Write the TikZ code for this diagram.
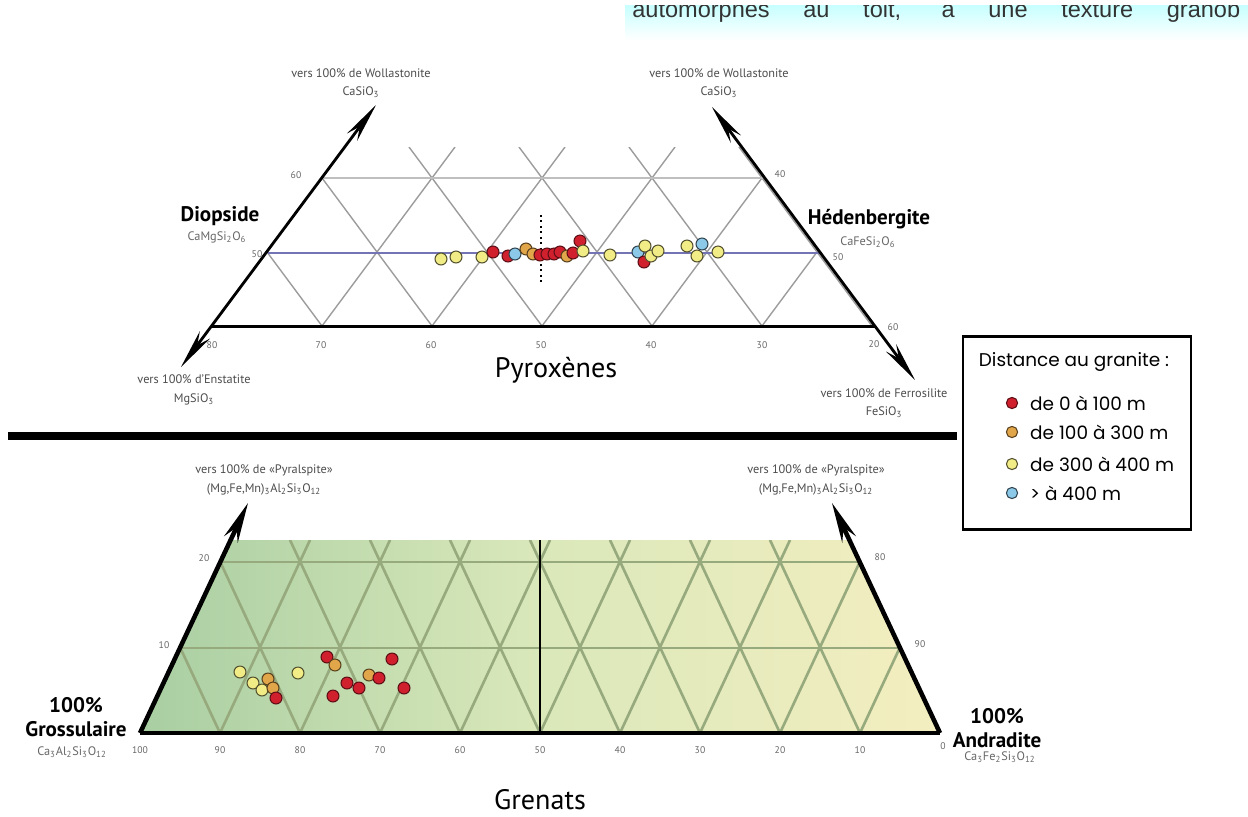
\documentclass[tikz,border=0pt]{standalone}
\usepackage{fontspec}
\setmainfont{PT Sans}
\newfontfamily\legendfont{Poppins}
\newfontfamily\pagefont{Liberation Sans}
\usetikzlibrary{arrows.meta}

\definecolor{dotred}{HTML}{D0202E}
\definecolor{dotorange}{HTML}{E2A64A}
\definecolor{dotyellow}{HTML}{F2EC86}
\definecolor{dotblue}{HTML}{8CC8E8}
\definecolor{wogrid}{HTML}{9C9C9C}
\definecolor{woline}{HTML}{7474B4}
\definecolor{garleft}{HTML}{A8CEA2}
\definecolor{garmid}{HTML}{DAE8BA}
\definecolor{garright}{HTML}{F4EEC0}
\definecolor{gargrid}{HTML}{97AA7E}

\newcommand{\sbs}[1]{\textsubscript{#1}}

\begin{document}
\begin{tikzpicture}[x=0.02cm,y=-0.02cm,
    axisarrow/.style={line width=1.6pt,{Stealth[length=0.8cm,width=0.25cm]}-{Stealth[length=0.8cm,width=0.25cm]}},
    garnetarrow/.style={line width=2.6pt,-{Stealth[length=0.8cm,width=0.3cm]}},
    pyrgrid/.style={draw=wogrid,line width=0.8pt},
    gargridline/.style={draw=gargrid,line width=1.5pt},
    tick/.style={font=\fontsize{5.5}{6}\selectfont,text=black!60},
    note/.style={font=\fontsize{7}{10.5}\selectfont,text=black!70,align=center},
    formula/.style={font=\fontsize{7}{8}\selectfont,text=black!60},
    endmember/.style={font=\bfseries\fontsize{12}{14}\selectfont,align=center},
    title/.style={font=\fontsize{16}{18}\selectfont},
    legtext/.style={font=\legendfont\fontsize{10.5}{12}\selectfont,anchor=west},
    reddot/.style={fill=dotred,draw=dotred!45!black,line width=0.6pt},
    orangedot/.style={fill=dotorange,draw=dotorange!40!black,line width=0.6pt},
    yellowdot/.style={fill=dotyellow,draw=dotyellow!35!black,line width=0.6pt},
    bluedot/.style={fill=dotblue,draw=dotblue!35!black,line width=0.6pt}]

    \clip (0,0) rectangle (1248,816);

    % fragment of the page above
    \begin{scope}
        \clip (625,5) rectangle (1248,40);
        \fill[top color=cyan!22,bottom color=white] (625,5) rectangle (1248,40);
        \node[font=\pagefont\fontsize{13.4}{15}\selectfont,text=black!80,anchor=base west,inner sep=0pt] (frag) at (632,17)
            {\makebox[12.16cm][s]{automorphes au toit, à une texture granob}};
    \end{scope}

    % pyroxenes
    \coordinate (di) at (268,253);
    \coordinate (hd) at (821,253);
    \coordinate (en0) at (212,326);
    \coordinate (fs0) at (875,326);
    \coordinate (wol) at (376,105);
    \coordinate (enx) at (181,367);
    \coordinate (wor) at (712,107);
    \coordinate (fsx) at (915,380);

    \begin{scope}
        \clip (212,326) -- (345,147) -- (742,147) -- (875,326) -- cycle;
        \foreach \k in {-3,...,9} {
            \draw[pyrgrid] ({212+110*\k},326) -- ++(133,-179);
            \draw[pyrgrid] ({212+110*\k},326) -- ++(-133,-179);
        }
    \end{scope}
    \draw[draw=black!25,line width=0.8pt] (322,178) -- (765,178);
    \draw[draw=woline,line width=0.9pt] (di) -- (hd);
    \draw[line width=1.7pt] (en0) -- (fs0);
    \draw[dotted,line width=1.1pt] (541,215) -- (541,284);
    \draw[axisarrow] (enx) -- (wol);
    \draw[axisarrow] (fsx) -- (wor);

    \node[tick] (l60) at (296,175) {60};
    \node[tick] (l50) at (257,254) {50};
    \node[tick] (r40) at (780,174) {40};
    \node[tick] (r50) at (838,257) {50};
    \node[tick] (r60) at (893,327) {60};
    \node[tick] (b80) at (212,345) {80};
    \node[tick] (b70) at (321,345) {70};
    \node[tick] (b60) at (431,345) {60};
    \node[tick] (b50) at (541,345) {50};
    \node[tick] (b40) at (651,345) {40};
    \node[tick] (b30) at (762,345) {30};
    \node[tick] (b20) at (874,344) {20};

    \node[note] (wotextl) at (361,83) {vers 100\% de Wollastonite\\CaSiO\sbs{3}};
    \node[note] (wotextr) at (719,83) {vers 100\% de Wollastonite\\CaSiO\sbs{3}};
    \node[note] (entext) at (194,390) {vers 100\% d'Enstatite\\MgSiO\sbs{3}};
    \node[note] (fstext) at (884,403) {vers 100\% de Ferrosilite\\FeSiO\sbs{3}};
    \node[endmember] (dilabel) at (220,216) {Diopside};
    \node[formula] (diform) at (217,237) {CaMgSi\sbs{2}O\sbs{6}};
    \node[endmember] (hdlabel) at (869,219) {Hédenbergite};
    \node[formula] (hdform) at (868,242) {CaFeSi\sbs{2}O\sbs{6}};
    \node[title] (pyrtitle) at (556,370) {Pyroxènes};

    \draw[yellowdot] (441,259) circle[radius=3.4pt];
    \draw[yellowdot] (456,257) circle[radius=3.4pt];
    \draw[yellowdot] (482,257) circle[radius=3.4pt];
    \draw[reddot] (493,252) circle[radius=3.4pt];
    \draw[reddot] (508,256) circle[radius=3.4pt];
    \draw[bluedot] (515,254) circle[radius=3.4pt];
    \draw[orangedot] (526,249) circle[radius=3.4pt];
    \draw[orangedot] (533,254) circle[radius=3.4pt];
    \draw[reddot] (540,255) circle[radius=3.4pt];
    \draw[reddot] (547,254) circle[radius=3.4pt];
    \draw[reddot] (554,254) circle[radius=3.4pt];
    \draw[reddot] (560,252) circle[radius=3.4pt];
    \draw[orangedot] (567,256) circle[radius=3.4pt];
    \draw[reddot] (573,253) circle[radius=3.4pt];
    \draw[reddot] (580,241) circle[radius=3.4pt];
    \draw[yellowdot] (583,251) circle[radius=3.4pt];
    \draw[yellowdot] (610,255) circle[radius=3.4pt];
    \draw[bluedot] (638,252) circle[radius=3.4pt];
    \draw[reddot] (644,262) circle[radius=3.4pt];
    \draw[yellowdot] (645,246) circle[radius=3.4pt];
    \draw[yellowdot] (651,256) circle[radius=3.4pt];
    \draw[yellowdot] (658,251) circle[radius=3.4pt];
    \draw[yellowdot] (687,246) circle[radius=3.4pt];
    \draw[yellowdot] (697,256) circle[radius=3.4pt];
    \draw[bluedot] (702,244) circle[radius=3.4pt];
    \draw[yellowdot] (718,252) circle[radius=3.4pt];

    % separator
    \draw[line width=4.2pt] (8,436) -- (957,436);

    % legend
    \node[draw,line width=1.6pt,minimum width=4.56cm,minimum height=3.86cm] (legend) at (1077,433) {};
    \node[font=\legendfont\fontsize{10.5}{12}\selectfont] (legtitle) at (1074,362) {Distance au granite :};
    \draw[reddot] (1012,403) circle[radius=3.2pt];
    \node[legtext] (leg1) at (1024,403) {de 0 à 100 m};
    \draw[orangedot] (1012,432) circle[radius=3.2pt];
    \node[legtext] (leg2) at (1024,432) {de 100 à 300 m};
    \draw[yellowdot] (1012,464) circle[radius=3.2pt];
    \node[legtext] (leg3) at (1024,464) {de 300 à 400 m};
    \draw[bluedot] (1012,493) circle[radius=3.2pt];
    \node[legtext] (leg4) at (1024,493) {> à 400 m};

    % grenats
    \coordinate (gr) at (140,733);
    \coordinate (ad) at (940,733);
    \coordinate (pyl) at (248,503);
    \coordinate (pyr) at (832,503);

    \fill[left color=garleft,right color=garright,middle color=garmid] (140,733) -- (230,540) -- (850,540) -- (940,733) -- cycle;
    \begin{scope}
        \clip (140,733) -- (230,540) -- (850,540) -- (940,733) -- cycle;
        \foreach \k in {-3,...,13} {
            \draw[gargridline] ({140+80*\k},733) -- ++(90,-193);
            \draw[gargridline] ({140+80*\k},733) -- ++(-90,-193);
        }
    \end{scope}
    \draw[gargridline] (220,562) -- (860,562);
    \draw[gargridline] (180,648) -- (900,648);
    \draw[line width=0.9pt] (540,540) -- (540,733);
    \draw[line width=2.2pt] (gr) -- (ad);
    \draw[garnetarrow] (gr) -- (pyl);
    \draw[garnetarrow] (ad) -- (pyr);

    \node[tick] (g20) at (204,558) {20};
    \node[tick] (g10) at (164,645) {10};
    \node[tick] (a80) at (880,557) {80};
    \node[tick] (a90) at (920,644) {90};
    \foreach \v [count=\i from 0] in {100,90,80,70,60,50,40,30,20,10} {
        \node[tick] (gb\v) at ({140+80*\i},750) {\v};
    }
    \node[tick] (gb0) at (943,746) {0};

    \node[note] (pytextl) at (264,480) {vers 100\% de «Pyralspite»\\(Mg,Fe,Mn)\sbs{3}Al\sbs{2}Si\sbs{3}O\sbs{12}};
    \node[note] (pytextr) at (816,480) {vers 100\% de «Pyralspite»\\(Mg,Fe,Mn)\sbs{3}Al\sbs{2}Si\sbs{3}O\sbs{12}};
    \node[endmember] (grlabel) at (76,717) {100\%\\Grossulaire};
    \node[formula] (grform) at (72,752) {Ca\sbs{3}Al\sbs{2}Si\sbs{3}O\sbs{12}};
    \node[endmember] (adlabel) at (997,728) {100\%\\Andradite};
    \node[formula] (adform) at (1000,757) {Ca\sbs{3}Fe\sbs{2}Si\sbs{3}O\sbs{12}};
    \node[title] (gartitle) at (540,800) {Grenats};

    \draw[yellowdot] (240,672) circle[radius=3.4pt];
    \draw[yellowdot] (253,683) circle[radius=3.4pt];
    \draw[yellowdot] (262,690) circle[radius=3.4pt];
    \draw[orangedot] (268,679) circle[radius=3.4pt];
    \draw[orangedot] (273,688) circle[radius=3.4pt];
    \draw[reddot] (276,698) circle[radius=3.4pt];
    \draw[yellowdot] (298,673) circle[radius=3.4pt];
    \draw[reddot] (327,657) circle[radius=3.4pt];
    \draw[orangedot] (335,665) circle[radius=3.4pt];
    \draw[reddot] (333,696) circle[radius=3.4pt];
    \draw[reddot] (347,683) circle[radius=3.4pt];
    \draw[reddot] (359,688) circle[radius=3.4pt];
    \draw[orangedot] (369,675) circle[radius=3.4pt];
    \draw[reddot] (379,678) circle[radius=3.4pt];
    \draw[reddot] (392,659) circle[radius=3.4pt];
    \draw[reddot] (404,688) circle[radius=3.4pt];
\end{tikzpicture}
\end{document}
